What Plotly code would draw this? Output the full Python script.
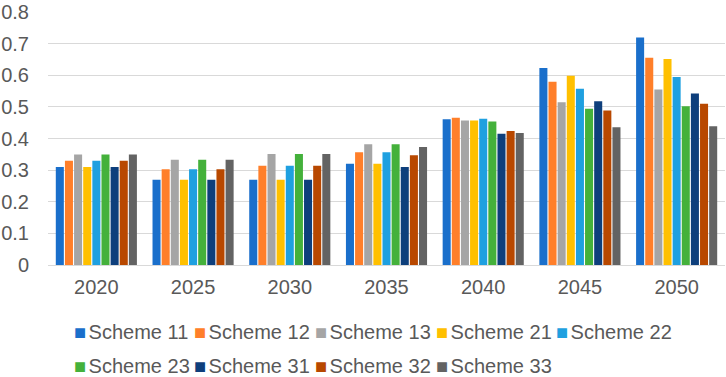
import plotly.graph_objects as go

years = ["2020", "2025", "2030", "2035", "2040", "2045", "2050"]
schemes = ["Scheme 11", "Scheme 12", "Scheme 13", "Scheme 21", "Scheme 22",
           "Scheme 23", "Scheme 31", "Scheme 32", "Scheme 33"]
s11 = [0.31, 0.27, 0.27, 0.32, 0.461, 0.623, 0.72]
s12 = [0.33, 0.303, 0.314, 0.357, 0.466, 0.58, 0.656]
s13 = [0.35, 0.333, 0.351, 0.382, 0.457, 0.515, 0.555]
s21 = [0.31, 0.27, 0.27, 0.32, 0.457, 0.599, 0.652]
s22 = [0.33, 0.303, 0.314, 0.357, 0.463, 0.558, 0.595]
s23 = [0.35, 0.333, 0.351, 0.382, 0.454, 0.494, 0.502]
s31 = [0.31, 0.27, 0.27, 0.31, 0.415, 0.518, 0.543]
s32 = [0.33, 0.303, 0.314, 0.347, 0.424, 0.489, 0.51]
s33 = [0.35, 0.333, 0.351, 0.373, 0.418, 0.436, 0.439]
values = [s11, s12, s13, s21, s22, s23, s31, s32, s33]
y_ticks = [0, 0.1, 0.2, 0.3, 0.4, 0.5, 0.6, 0.7, 0.8]
y_tick_text = ["0", "0.1", "0.2", "0.3", "0.4", "0.5", "0.6", "0.7", "0.8"]
colors = ["#1A6FCB", "#FF7F2A", "#A5A5A5", "#FFC000", "#1FA0E0",
          "#44B13B", "#0E3F7C", "#B84800", "#636363"]

FONT = "Liberation Sans, Arial, sans-serif"
TXT = "#595959"
W, H = 726, 377
L, R, T, B = 43, 1, 7, 112
PW, PH = W - L - R, H - T - B

fig = go.Figure()
for name, vals, col in zip(schemes, values, colors):
    fig.add_trace(go.Bar(x=years, y=vals, name=name, marker_color=col,
                         marker_line_width=0, showlegend=False))

# legend drawn as text entries (coloured square glyph + scheme name), 5 per row
row_y = [333.0, 367.5]
for i, (name, col) in enumerate(zip(schemes, colors)):
    r, c = divmod(i, 5)
    px = 71.7 + 121.6 * c - 5
    fig.add_annotation(
        x=(px - L) / PW, y=(H - B - row_y[r]) / PH, xref="paper", yref="paper",
        xanchor="left", yanchor="middle", showarrow=False,
        text=f'<span style="color:{col}">■</span><span style="font-size:9px"> </span>{name}',
        font=dict(family=FONT, size=20, color=TXT))

fig.update_layout(
    width=W, height=H,
    margin=dict(l=L, r=R, t=T, b=B),
    paper_bgcolor="white", plot_bgcolor="white",
    barmode="group", bargap=0.15, bargroupgap=0.12,
    font=dict(family=FONT, color=TXT),
    showlegend=False,
    xaxis=dict(showgrid=False, showline=True, linecolor="#D9D9D9", linewidth=1,
               tickfont=dict(family=FONT, size=20, color=TXT),
               ticks="", ticklabelstandoff=4),
    yaxis=dict(range=[0, 0.8005], tickvals=y_ticks, ticktext=y_tick_text,
               showgrid=True, gridcolor="#D9D9D9",
               gridwidth=1, zeroline=False, showline=False,
               tickfont=dict(family=FONT, size=20, color=TXT),
               ticklabelstandoff=18, ticklabeloverflow="allow"),
)
fig.write_html("out.html", config={"displayModeBar": False},
               post_script="document.body.style.margin='0';")
